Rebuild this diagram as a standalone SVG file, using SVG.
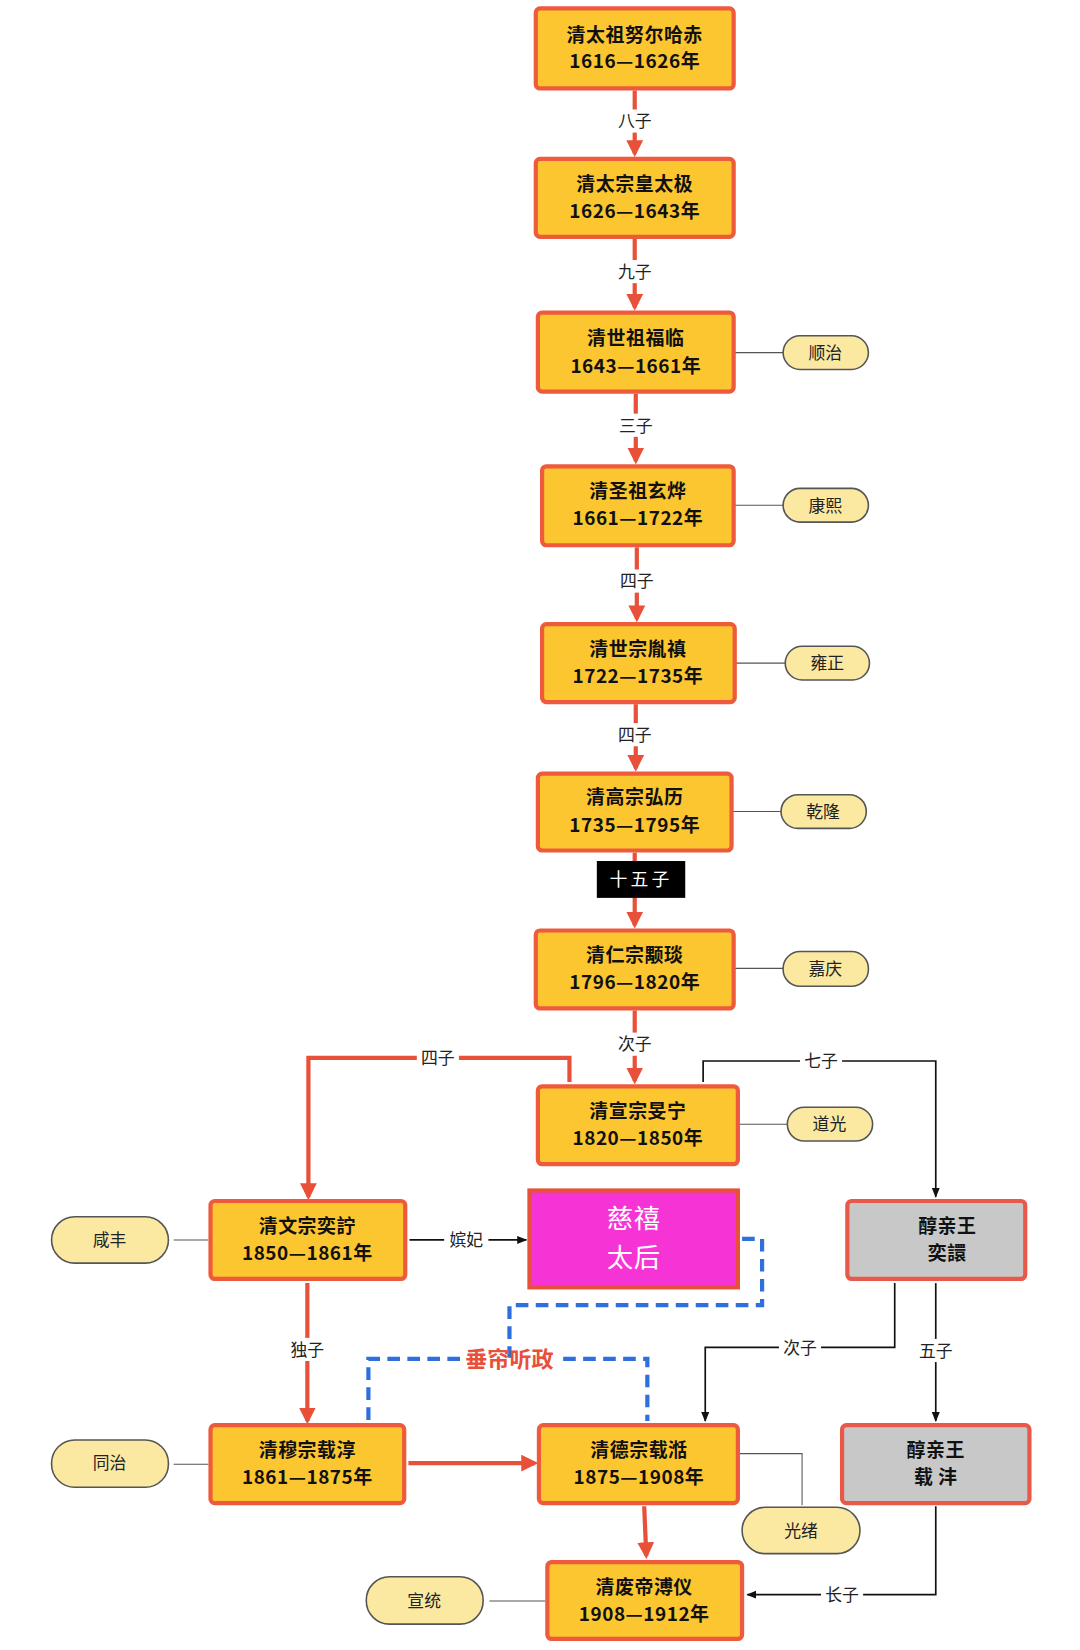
<svg xmlns="http://www.w3.org/2000/svg" width="1080" height="1650" viewBox="0 0 1080 1650">
<defs>
<style>
.b{fill:#fcc630;stroke:#ee5a3c;stroke-width:4}
.g{fill:#c8c8c8;stroke:#e8594a;stroke-width:4}
.p{fill:#fbe9a2;stroke:#555;stroke-width:1.5}
.t{font-family:"Noto Sans CJK SC","Liberation Sans",sans-serif;font-weight:bold;font-size:18px;letter-spacing:0.5px;fill:#111;text-anchor:middle}
.pt{font-family:"Noto Sans CJK SC",sans-serif;font-size:16px;fill:#222;text-anchor:middle}
.l{font-family:"Noto Sans CJK SC",sans-serif;font-size:16px;fill:#222;text-anchor:middle}
.r{stroke:#e8503a;stroke-width:4;fill:none}
.k{stroke:#111;stroke-width:1.6;fill:none}
.gl{stroke:#555;stroke-width:1;fill:none}
.d{stroke:#2f6fdc;stroke-width:4;stroke-dasharray:12 7;fill:none}
</style>
<marker id="ar" viewBox="0 0 10 10" refX="8" refY="5" markerWidth="4" markerHeight="4" orient="auto"><path d="M0,0L10,5L0,10z" fill="#e8503a"/></marker>
<marker id="ak" viewBox="0 0 10 10" refX="9" refY="5" markerWidth="6" markerHeight="6" orient="auto"><path d="M0,1L10,5L0,9z" fill="#111"/></marker>
</defs>
<rect width="1080" height="1650" fill="#fff"/>
<g transform="scale(1.0526)">
<g id="connectors">
<path class="r" d="M603,86V146" marker-end="url(#ar)"/>
<path class="r" d="M603,227V292" marker-end="url(#ar)"/>
<path class="r" d="M604,374V438" marker-end="url(#ar)"/>
<path class="r" d="M605,520V588" marker-end="url(#ar)"/>
<path class="r" d="M604,669V730" marker-end="url(#ar)"/>
<path class="r" d="M603,810V879" marker-end="url(#ar)"/>
<path class="r" d="M603,960V1027" marker-end="url(#ar)"/>
<path class="r" d="M541,1028V1005H293V1137" marker-end="url(#ar)"/>
<path class="k" d="M668,1028V1008H889V1137" marker-end="url(#ak)"/>
<path class="k" d="M389,1178H500" marker-end="url(#ak)"/>
<path class="r" d="M292,1219V1350" marker-end="url(#ar)"/>
<path class="r" d="M388,1390H508" marker-end="url(#ar)"/>
<path class="r" d="M612,1431L614,1478" marker-end="url(#ar)"/>
<path class="k" d="M850,1219V1280H670V1350" marker-end="url(#ak)"/>
<path class="k" d="M889,1219V1350" marker-end="url(#ak)"/>
<path class="k" d="M889,1431V1515H710" marker-end="url(#ak)"/>
<path class="gl" d="M697,335H744M697,480H744M698,630H746M695,771H742M697,920H744M701,1068H748M165,1178H198M165,1391H198M701,1381H762V1430M465,1521H518"/>
<path class="d" d="M705,1177H724V1240H484V1290M437,1291H350V1350M535,1291H615V1350"/>
<rect x="584" y="104" width="38" height="22" fill="#fff"/><text class="l" x="603" y="121">八子</text>
<rect x="584" y="247" width="38" height="22" fill="#fff"/><text class="l" x="603" y="264">九子</text>
<rect x="585" y="393" width="38" height="22" fill="#fff"/><text class="l" x="604" y="410">三子</text>
<rect x="586" y="541" width="38" height="22" fill="#fff"/><text class="l" x="605" y="558">四子</text>
<rect x="584" y="687" width="38" height="22" fill="#fff"/><text class="l" x="603" y="704">四子</text>
<rect x="567" y="818" width="84" height="35" fill="#000"/><text class="l" x="609" y="842" style="fill:#fff;font-size:17px;letter-spacing:3px">十五子</text>
<rect x="584" y="981" width="38" height="22" fill="#fff"/><text class="l" x="603" y="998">次子</text>
<rect x="396" y="994" width="40" height="22" fill="#fff"/><text class="l" x="416" y="1011">四子</text>
<rect x="760" y="997" width="40" height="22" fill="#fff"/><text class="l" x="780" y="1014">七子</text>
<rect x="422" y="1167" width="42" height="22" fill="#fff"/><text class="l" x="443" y="1184">嫔妃</text>
<rect x="272" y="1271" width="40" height="22" fill="#fff"/><text class="l" x="292" y="1288">独子</text>
<rect x="740" y="1269" width="40" height="22" fill="#fff"/><text class="l" x="760" y="1286">次子</text>
<rect x="869" y="1272" width="40" height="22" fill="#fff"/><text class="l" x="889" y="1289">五子</text>
<rect x="780" y="1504" width="40" height="22" fill="#fff"/><text class="l" x="800" y="1521">长子</text>
<text x="484" y="1299" style="font-family:'Noto Sans CJK SC',sans-serif;font-size:21px;font-weight:bold;fill:#e8503a;text-anchor:middle">垂帘听政</text>
</g>
<g id="n1"><rect class="b" x="509" y="8" width="188" height="76" rx="4"/><text class="t" x="603" y="40">清太祖努尔哈赤</text><text class="t" x="603" y="65">1616—1626年</text></g>
<g id="n2"><rect class="b" x="509" y="151" width="188" height="74" rx="4"/><text class="t" x="603" y="181">清太宗皇太极</text><text class="t" x="603" y="207">1626—1643年</text></g>
<g id="n3"><rect class="b" x="511" y="297" width="186" height="75" rx="4"/><text class="t" x="604" y="328">清世祖福临</text><text class="t" x="604" y="354">1643—1661年</text></g>
<g id="p3"><rect class="p" x="744" y="319" width="81" height="32" rx="16"/><text class="pt" x="784" y="341">顺治</text></g>
<g id="n4"><rect class="b" x="515" y="443" width="182" height="75" rx="4"/><text class="t" x="606" y="473">清圣祖玄烨</text><text class="t" x="606" y="499">1661—1722年</text></g>
<g id="p4"><rect class="p" x="744" y="464" width="81" height="32" rx="16"/><text class="pt" x="784" y="486">康熙</text></g>
<g id="n5"><rect class="b" x="515" y="593" width="183" height="74" rx="4"/><text class="t" x="606" y="623">清世宗胤禛</text><text class="t" x="606" y="649">1722—1735年</text></g>
<g id="p5"><rect class="p" x="746" y="614" width="80" height="32" rx="16"/><text class="pt" x="786" y="636">雍正</text></g>
<g id="n6"><rect class="b" x="511" y="735" width="184" height="73" rx="4"/><text class="t" x="603" y="764">清高宗弘历</text><text class="t" x="603" y="790">1735—1795年</text></g>
<g id="p6"><rect class="p" x="742" y="755" width="81" height="32" rx="16"/><text class="pt" x="782" y="777">乾隆</text></g>
<g id="n7"><rect class="b" x="509" y="884" width="188" height="74" rx="4"/><text class="t" x="603" y="914">清仁宗颙琰</text><text class="t" x="603" y="940">1796—1820年</text></g>
<g id="p7"><rect class="p" x="744" y="904" width="81" height="33" rx="16"/><text class="pt" x="784" y="926">嘉庆</text></g>
<g id="n8"><rect class="b" x="511" y="1032" width="190" height="74" rx="4"/><text class="t" x="606" y="1062">清宣宗旻宁</text><text class="t" x="606" y="1088">1820—1850年</text></g>
<g id="p8"><rect class="p" x="748" y="1052" width="81" height="32" rx="16"/><text class="pt" x="788" y="1074">道光</text></g>
<g id="n9"><rect class="b" x="200" y="1141" width="185" height="74" rx="4"/><text class="t" x="292" y="1171">清文宗奕詝</text><text class="t" x="292" y="1197">1850—1861年</text></g>
<g id="p9"><rect class="p" x="49" y="1156" width="111" height="44" rx="22"/><text class="pt" x="104" y="1184">咸丰</text></g>
<g id="n10"><rect x="503" y="1131" width="198" height="92" fill="#f634d6" stroke="#e8503a" stroke-width="4"/><text class="t" x="602" y="1167" style="fill:#fff;font-size:25px;font-weight:normal">慈禧</text><text class="t" x="602" y="1204" style="fill:#fff;font-size:25px;font-weight:normal">太后</text></g>
<g id="n11"><rect class="g" x="805" y="1141" width="169" height="74" rx="4"/><text class="t" x="900" y="1171">醇亲王</text><text class="t" x="900" y="1197">奕譞</text></g>
<g id="n12"><rect class="b" x="200" y="1354" width="184" height="74" rx="4"/><text class="t" x="292" y="1384">清穆宗载淳</text><text class="t" x="292" y="1410">1861—1875年</text></g>
<g id="p12"><rect class="p" x="49" y="1368" width="111" height="45" rx="22"/><text class="pt" x="104" y="1396">同治</text></g>
<g id="n13"><rect class="b" x="512" y="1354" width="189" height="74" rx="4"/><text class="t" x="607" y="1384">清德宗载湉</text><text class="t" x="607" y="1410">1875—1908年</text></g>
<g id="p13"><rect class="p" x="705" y="1432" width="112" height="44" rx="22"/><text class="pt" x="761" y="1460">光绪</text></g>
<g id="n14"><rect class="g" x="800" y="1354" width="178" height="74" rx="4"/><text class="t" x="889" y="1384">醇亲王</text><text class="t" x="889" y="1410">载 沣</text></g>
<g id="n15"><rect class="b" x="520" y="1484" width="185" height="73" rx="4"/><text class="t" x="612" y="1514">清废帝溥仪</text><text class="t" x="612" y="1540">1908—1912年</text></g>
<g id="p15"><rect class="p" x="348" y="1498" width="111" height="45" rx="22"/><text class="pt" x="403" y="1527">宣统</text></g>
</g>
</svg>
